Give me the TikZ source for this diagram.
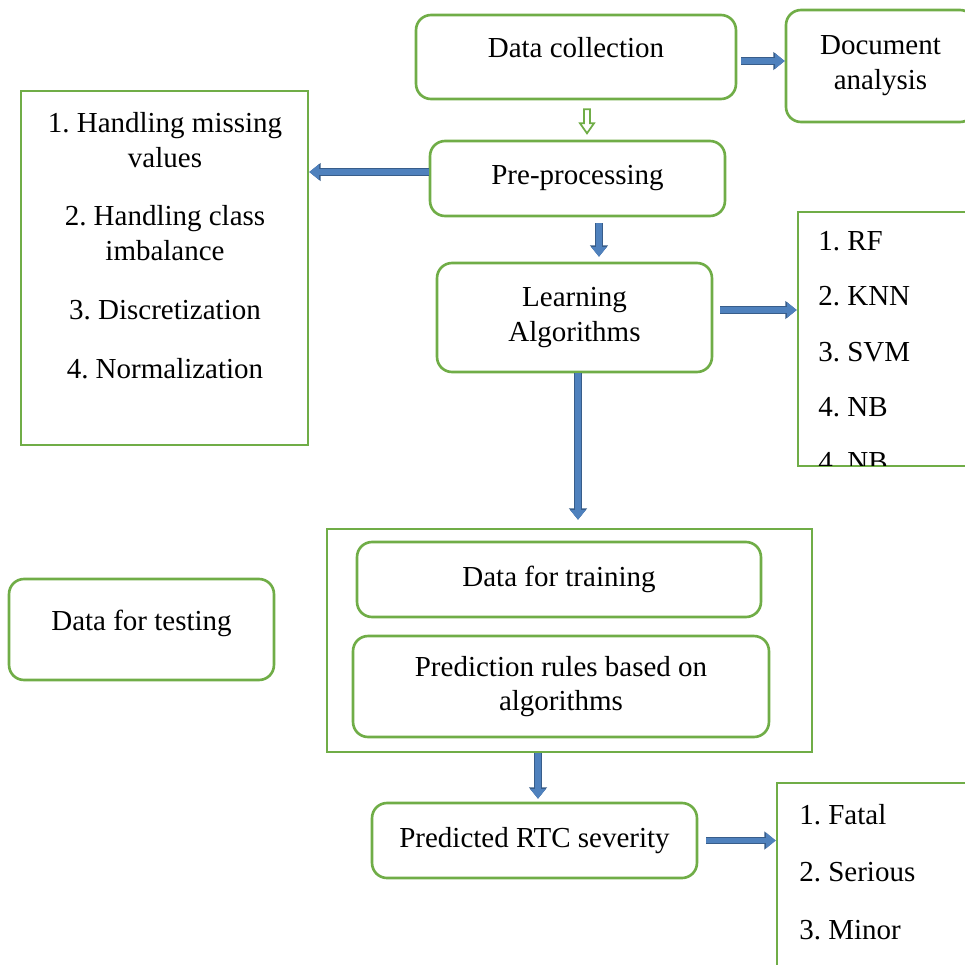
\documentclass[tikz,border=0pt]{standalone}
\usepackage{fontspec}
\setmainfont{Liberation Serif}
\frenchspacing
\usetikzlibrary{arrows.meta,positioning}
\definecolor{boxgreen}{RGB}{112,173,71}
\definecolor{arrowfill}{RGB}{79,129,189}
\definecolor{arrowedge}{RGB}{56,93,138}
\tikzset{
  rbox/.style={draw=boxgreen, line width=1.5pt, rounded corners=0.3cm, align=center, inner sep=0pt},
  sbox/.style={draw=boxgreen, line width=1.5pt, inner sep=0pt},
  listtxt/.style={anchor=north west, align=left, inner sep=0pt},
  blockarr/.style={draw=arrowfill, line width=3.2pt, -{Triangle[length=5.5pt,width=8.5pt]},
    preaction={draw=arrowedge, line width=4.2pt, -{Triangle[length=6.5pt,width=10pt]}}},
  hollowarr/.style={draw=boxgreen, line width=1pt, fill=white, line join=miter}
}

\begin{document}
\begin{tikzpicture}[x=0.02cm, y=-0.02cm, font=\fontsize{16.5}{19.8}\selectfont]
\useasboundingbox (0,0) rectangle (965,965);
\clip (0,0) rectangle (965,965);

\node[rbox, minimum width=6.4cm, minimum height=1.68cm, text depth=10.5pt] (collect) at (576,57) {Data collection};
\node[rbox, minimum width=3.78cm, minimum height=2.24cm] (docan) at (880.5,66) {Document\\ analysis};
\node[rbox, minimum width=5.9cm, minimum height=1.5cm] (prepro) at (577.5,178.5) {Pre-processing};
\node[rbox, minimum width=5.5cm, minimum height=2.18cm] (learn) at (574.5,317.5) {Learning\\ Algorithms};

% pre-processing steps
\node[sbox, minimum width=5.74cm, minimum height=7.08cm] (steps) at (164.5,268) {};
\node[anchor=north, align=center, inner sep=0pt] (steplist) at (165,112) {1. Handling missing\\ values\\[13.6pt] 2. Handling class\\ imbalance\\[13.6pt] 3. Discretization\\[13.6pt] 4. Normalization};

% algorithms
\node[sbox, minimum width=3.64cm, minimum height=5.08cm] (algos) at (889,339) {};
\begin{scope}
\clip ([yshift=0.8pt]algos.south west) rectangle (algos.north east);
\node[listtxt, font=\fontsize{16.5}{31.5}\selectfont] (algolist) at (818,231) {1. RF\\ 2. KNN\\ 3. SVM\\ 4. NB\\ 4. NB};
\end{scope}

\node[sbox, minimum width=9.7cm, minimum height=4.46cm] (model) at (569.5,640.5) {};
\node[rbox, minimum width=8.08cm, minimum height=1.5cm] (train) at (559,579.5) {Data for training};
\node[rbox, minimum width=8.32cm, minimum height=2.02cm] (rules) at (561,686.5) {Prediction rules based on\\ algorithms};
\node[rbox, minimum width=5.3cm, minimum height=2.02cm, text depth=11pt] (test) at (141.5,629.5) {Data for testing};
\node[rbox, minimum width=6.5cm, minimum height=1.5cm] (predict) at (534.5,840.5) {Predicted RTC severity};

% severity classes
\node[sbox, minimum width=4.06cm, minimum height=4.34cm] (sev) at (878.5,891.5) {};
\node[listtxt, font=\fontsize{16.5}{32.6}\selectfont] (sevlist) at (799,804) {1. Fatal\\ 2. Serious\\ 3. Minor};

% arrows
\draw[blockarr, shorten <=0.08cm] ([yshift=-0.08cm]collect.east) -- ([yshift=-0.08cm]collect.east -| docan.west);
\begin{scope}[shift={([xshift=0.22cm]collect.south)}]
\draw[hollowarr] (-3,9) -- (3,9) -- (3,23) -- (7,23) -- (0,33) -- (-7,23) -- (-3,23) -- cycle;
\end{scope}
\draw[blockarr] ([yshift=0.13cm]prepro.west) -- ([yshift=0.13cm]prepro.west -| steps.east);
\draw[blockarr, shorten <=0.12cm, shorten >=0.1cm] ([xshift=0.43cm]prepro.south) -- ([xshift=0.43cm]prepro.south |- learn.north);
\draw[blockarr, shorten <=0.14cm] ([yshift=0.15cm]learn.east) -- ([yshift=0.15cm]learn.east -| algos.west);
\draw[blockarr, shorten >=0.16cm] ([xshift=0.07cm]learn.south) -- ([xshift=0.07cm]learn.south |- model.north);
\draw[blockarr, shorten >=0.06cm] ([xshift=-0.63cm]model.south) -- ([xshift=-0.63cm]model.south |- predict.north);
\draw[blockarr, shorten <=0.16cm] (predict.east) -- (predict.east -| sev.west);
\end{tikzpicture}
\end{document}
